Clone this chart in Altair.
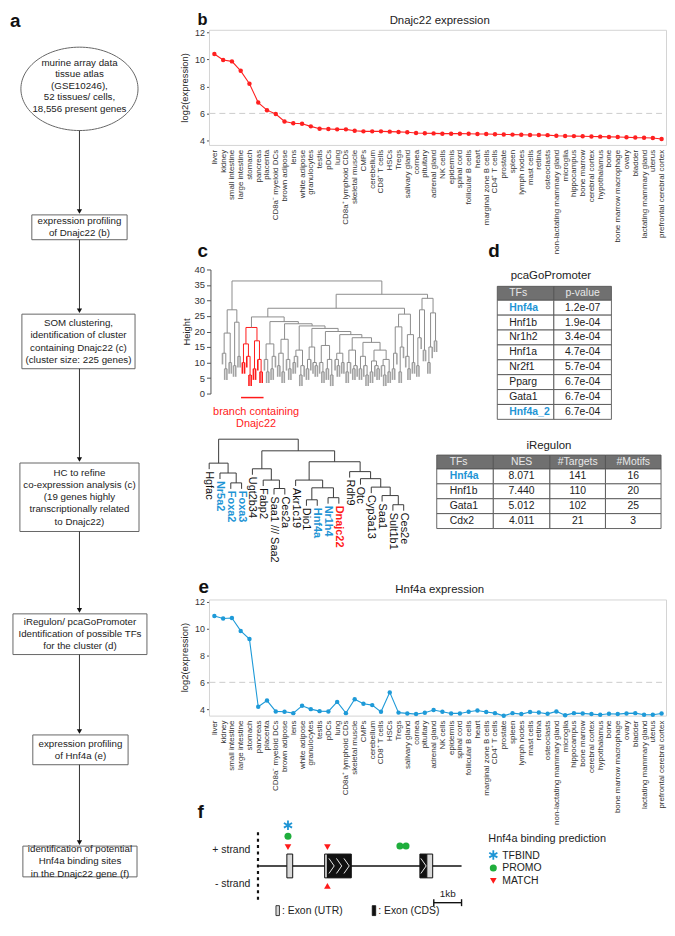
import re
import numpy as np
import pandas as pd
import altair as alt

FONT = "Liberation Sans, Arial, Helvetica, sans-serif"
BLUE = "#1f95d5"
RED = "#ff1a1a"
GREEN = "#1fae3c"
INK = "#222222"

W, H = 664, 914
OX, OY = 8, 8

# ---------------- data ----------------
tissues = ["liver", "kidney", "small intestine", "large intestine", "stomach", "pancreas", "placenta",
           "CD8a\u207b myeloid DCs", "brown adipose", "lens", "white adipose", "granulocytes", "testis",
           "pDCs", "lung", "CD8a\u207a lymphoid CDs", "skeletal muscle", "CMPs", "cerebellum",
           "CD8\u207a T cells", "HSCs", "Tregs", "salivary gland", "cornea", "pituitary", "adrenal gland",
           "NK cells", "epidermis", "spinal cord", "follicular B cells", "heart", "marginal zone B cells",
           "CD4\u207a T cells", "prostate", "spleen", "lymph nodes", "mast cells", "retina", "osteoclasts",
           "non-lactating mammary gland", "microglia", "hippocampus", "bone marrow", "cerebral cortex",
           "hypothalamus", "bone", "bone marrow macrophage", "ovary", "bladder",
           "lactating mammary gland", "uterus", "prefrontal cerebral cortex"]

dnajc22_expr = [10.4, 9.95, 9.85, 9.15, 8.2, 6.8, 6.24, 5.95, 5.4, 5.27, 5.23, 5.04, 4.87, 4.84,
                4.82, 4.82, 4.72, 4.67, 4.67, 4.67, 4.65, 4.63, 4.6, 4.55, 4.53, 4.52, 4.5, 4.5,
                4.5, 4.49, 4.48, 4.48, 4.46, 4.44, 4.43, 4.42, 4.4, 4.4, 4.39, 4.35, 4.33, 4.32,
                4.31, 4.29, 4.28, 4.26, 4.25, 4.24, 4.21, 4.2, 4.18, 4.1]

hnf4a_expr = [10.95, 10.77, 10.8, 9.84, 9.23, 4.18, 4.64, 3.83, 3.8, 3.7, 4.25, 4.0, 3.85, 3.83,
              4.54, 3.7, 4.74, 4.4, 4.3, 3.8, 5.25, 3.74, 3.68, 3.63, 3.73, 3.93, 3.8, 3.68,
              3.68, 3.8, 3.9, 3.78, 3.7, 3.5, 3.7, 3.63, 3.78, 3.75, 3.65, 3.83, 3.55, 3.7,
              3.68, 3.63, 3.58, 3.65, 3.63, 3.68, 3.7, 3.58, 3.58, 3.68]

# flowchart (panel a)
flow_ellipse = {"cx": 80, "cy": 86, "rx": 59, "ry": 42}
ellipse_text = ["murine array data", "tissue atlas", "(GSE10246),", "52 tissues/ cells,",
                "18,556 present genes"]
flow_boxes = [(32, 128, 213, 238), (22, 136, 313, 368), (20, 140, 463, 532),
              (13, 148, 615, 656), (33, 129, 737, 767), (23, 138, 849, 880)]
flow_text = [["expression profiling", "of Dnajc22 (b)"],
             ["SOM clustering,", "identification of cluster", "containing Dnajc22 (c)",
              "(cluster size: 225 genes)"],
             ["HC to refine", "co-expression analysis (c)", "(19 genes highly",
              "transcriptionally related", "to Dnajc22)"],
             ["iRegulon/ pcaGoPromoter", "Identification of possible TFs", "for the  cluster (d)"],
             ["expression profiling", "of Hnf4a (e)"],
             ["identification of potential", "Hnf4a binding sites", "in the Dnajc22 gene (f)"]]

# SOM-cluster dendrogram (panel c), "(left,right)height", x = leaf, r = highlighted branch
dend_L = "(((x,(x,x)8)13,(x,x)10)19.5,((x,x)9,(x,x)12)23)27"
dend_red = "r(((x,x)10,(x,(x,x)6)12)16,((x,x)8,(x,(x,x)7)11)17)21.3"
dend_Ma = "((x,(x,x)7)11,((x,x)8,x)12)16"
dend_Mc = "(((x,x)9,(x,x)7)13,(x,(x,x)8)11)17.5"
dend_Me = "(((x,x)10,x)12,((x,x)6,x)9)14"
dend_Mg = "(((x,x)8,x)11,(x,(x,x)9)10)15"
dend_Mi = "((x,(x,x)7)10,((x,x)8,(x,x)6)11)15.5"
dend_Mk = "((x,(x,x)9)11,(x,x)10)13"
dend_Mm = "(((x,x)7,x)10,((x,x)8,x)9)14"
dend_Mo = "((x,x)8,(x,(x,x)6)9)12"
dend_Mq = "((x,x)7,(x,(x,x)8)9)10.5"
dend_Mr = "((x,(x,x)6)9,(x,x)7)11"
dend_RLb = "((((x,x)8,x)13,((x,x)7,x)15)21.5,((x,(x,x)8)12,(x,x)10)19)25.6"
dend_RR = "((((x,x)9,x)18,(x,x)14)27,(((x,x)10,x)15,(x,x)17)26)30.7"
dend_M = ("(" + dend_Ma + ",(" + dend_Mc + ",(" + dend_Me + ",(" + dend_Mg + ",(" + dend_Mi +
          ",(" + dend_Mk + ",(" + dend_Mm + ",(" + dend_Mo + ",(" + dend_Mq + "," + dend_Mr +
          ")14)16.5)18)19)20)21)21.8)22.5)23.2")
dend_tree = ("(" + dend_L + ",(((" + dend_red + "," + dend_M + ")24.7," + dend_RLb + ")27.5," +
             dend_RR + ")32)36.3")
dend_hang = 3.6

# 19-gene HC tree
lower_tree = (10, (6.6, "Hgfac", (5.2, "Nr5a2", (3.8, "Foxa2", "Foxa3"))),
              (8.35, (5.8, "Ugt2b34", (4.2, "Fabp2", (3.0, "Saa1 /// Saa2", "Ces2a"))),
               (6.8, (4.2, "Akr1c19", (3.1, (1.4, "Dio1", "Hnf4a"), (1.7, "Nr1h4", "Dnajc22"))),
                (5.4, "Rdh9", (4.4, "Otc", (3.2, "Cyp3a13", (2.0, "Saa1", (0.7, "Sult1b1", "Ces2e"))))))))
lower_blue = ["Nr5a2", "Foxa2", "Foxa3", "Hnf4a", "Nr1h4"]
lower_red = ["Dnajc22"]
lower_hang = 0.85

# tables (panel d)
pca_header = ["TFs", "p-value"]
pca_tfs = ["Hnf4a", "Hnf1b", "Nr1h2", "Hnf1a", "Nr2f1", "Pparg", "Gata1", "Hnf4a_2"]
pca_p = ["1.2e-07", "1.9e-04", "3.4e-04", "4.7e-04", "5.7e-04", "6.7e-04", "6.7e-04", "6.7e-04"]
ireg_header = ["TFs", "NES", "#Targets", "#Motifs"]
ireg_tfs = ["Hnf4a", "Hnf1b", "Gata1", "Cdx2"]
ireg_nes = ["8.071", "7.440", "5.012", "4.011"]
ireg_targets = ["141", "110", "102", "21"]
ireg_motifs = ["16", "20", "25", "3"]
highlight_tfs = ["Hnf4a", "Hnf4a_2"]

# gene model (panel f), kb
gene_len = 7.29
exon_x0 = [1.0, 2.36, 2.46, 5.79, 6.04]
exon_x1 = [1.21, 2.46, 3.32, 6.04, 6.25]
exon_kind = ["UTR", "UTR", "CDS", "CDS", "UTR"]
chevron_kb = [2.61, 2.88, 3.15, 5.92]
tfbind_kb, tfbind_v = [1.04], [41]
promo_kb, promo_v = [1.04, 5.07, 5.29], [30, 20, 20]
match_plus_kb, match_plus_v = [1.04, 2.46], [19, 19]
match_minus_kb, match_minus_v = [2.46], [-20]

STAR = "M0,-1L0,1M-0.866,-0.5L0.866,0.5M-0.866,0.5L0.866,-0.5"
CHEV = "M-0.35,-1L0.35,0L-0.35,1"

# ---------------- helpers ----------------
CX = alt.Scale(domain=[OX, OX + W], range=[0, W], nice=False, zero=False)
CY = alt.Scale(domain=[OY, OY + H], range=[0, H], nice=False, zero=False)


def cxy(xf="x", yf="y"):
    return {"x": alt.X(f"{xf}:Q", scale=CX, axis=None), "y": alt.Y(f"{yf}:Q", scale=CY, axis=None)}


def ctext(rows, size, weight="normal", align="center", angle=0, color=INK, xs=CX, ys=CY):
    df = pd.DataFrame(rows, columns=["t", "x", "y"])
    mk = dict(font=FONT, fontSize=size, fontWeight=weight, align=align, baseline="middle", color=color)
    if angle:
        mk["angle"] = angle
    return alt.Chart(df).mark_text(**mk).encode(
        x=alt.X("x:Q", scale=xs, axis=None), y=alt.Y("y:Q", scale=ys, axis=None), text="t:N")


def crect(rows, **mk):
    df = pd.DataFrame(rows, columns=["x0", "x1", "y0", "y1"])
    return alt.Chart(df).mark_rect(**mk).encode(
        x=alt.X("x0:Q", scale=CX, axis=None), x2="x1:Q",
        y=alt.Y("y0:Q", scale=CY, axis=None), y2="y1:Q")


# ---------------- canvas: panel a, frames, tables, labels ----------------
canvas = []
canvas.append(crect([(211, 671.5, 27, 143), (211, 671.5, 601, 718)],
                     fillOpacity=0, stroke="#d4d4d4", strokeWidth=1))

# flowchart
e = flow_ellipse
tt = np.linspace(0, 2 * np.pi, 121)
ell = pd.DataFrame({"x": e["cx"] + e["rx"] * np.cos(tt), "y": e["cy"] + e["ry"] * np.sin(tt),
                    "k": np.arange(len(tt))})
canvas.append(alt.Chart(ell).mark_line(color="#666666", strokeWidth=1).encode(order="k:Q", **cxy()))
canvas.append(crect(flow_boxes, fill="white", stroke="#666666", strokeWidth=1))
starts = [e["cy"] + e["ry"]] + [b[3] for b in flow_boxes[:-1]]
ends = [b[2] for b in flow_boxes]
arr = pd.DataFrame({"x": [80] * len(ends), "y": starts, "y2": [v - 4 for v in ends]})
canvas.append(alt.Chart(arr).mark_rule(color="#333333", strokeWidth=1).encode(
    y2="y2:Q", **cxy()))
heads = pd.DataFrame({"x": [80] * len(ends), "y": [v - 3.5 for v in ends]})
canvas.append(alt.Chart(heads).mark_point(shape="triangle-down", filled=True, color="#111111",
                                          size=28, opacity=1).encode(**cxy()))
flow_rows = []
for i, s in enumerate(ellipse_text):
    flow_rows.append((s, e["cx"], 83 + (i - 2) * 11.5))
for (x0, x1, y0, y1), lines in zip(flow_boxes, flow_text):
    n = len(lines)
    for i, s in enumerate(lines):
        flow_rows.append((s, (x0 + x1) / 2, (y0 + y1) / 2 + (i - (n - 1) / 2) * 12.3))
canvas.append(ctext(flow_rows, 9.8))

# panel letters, titles, axis titles
canvas.append(ctext([("a", 10, 18), ("c", 199, 249), ("d", 492, 249),
                     ("e", 200, 588), ("f", 199, 815)], 19, weight="bold", align="left", color="#111111"))
canvas.append(ctext([("b", 199, 16.2)], 16.5, weight="bold", align="left", color="#111111"))
canvas.append(ctext([("Dnajc22 expression", 443, 18), ("Hnf4a expression", 443, 591),
                     ("pcaGoPromoter", 555, 275), ("iRegulon", 553, 446)], 11.5))
canvas.append(ctext([("log2(expression)", 186, 85), ("Height", 188, 331),
                     ("log2(expression)", 186, 659)], 9.5, angle=270))
canvas.append(ctext([("branch containing", 258, 412), ("Dnajc22", 258, 424)], 11, color=RED))


# tables
def table_layers(edges, y0, hh, rh, header, rows, tf_left):
    rr = []
    for j in range(len(edges) - 1):
        rr.append((edges[j], edges[j + 1], y0, y0 + hh, "#707070"))
    for i in range(len(rows)):
        ya = y0 + hh + i * rh
        for j in range(len(edges) - 1):
            rr.append((edges[j], edges[j + 1], ya, ya + rh, "#ffffff"))
    rdf = pd.DataFrame(rr, columns=["x0", "x1", "y0", "y1", "fill"])
    rect = alt.Chart(rdf).mark_rect(stroke="#555555", strokeWidth=0.9).encode(
        x=alt.X("x0:Q", scale=CX, axis=None), x2="x1:Q",
        y=alt.Y("y0:Q", scale=CY, axis=None), y2="y1:Q", fill=alt.Fill("fill:N", scale=None))
    hl = [(header[0], tf_left, y0 + hh / 2)]
    hc = [(header[j], (edges[j] + edges[j + 1]) / 2, y0 + hh / 2) for j in range(1, len(header))]
    bn, bb, bc = [], [], []
    for i, row in enumerate(rows):
        yc = y0 + hh + (i + 0.5) * rh
        (bb if row[0] in highlight_tfs else bn).append((row[0], tf_left, yc))
        for j in range(1, len(row)):
            bc.append((row[j], (edges[j] + edges[j + 1]) / 2, yc))
    out = [rect, ctext(hl, 10.5, align="left", color="#e8e8e8"), ctext(hc, 10.5, color="#e8e8e8"),
           ctext(bn, 10.5, align="left"), ctext(bc, 10.5)]
    if bb:
        out.append(ctext(bb, 10.5, weight="bold", align="left", color=BLUE))
    return out


canvas += table_layers([501, 558, 616], 285, 14, 15, pca_header,
                       list(zip(pca_tfs, pca_p)), 513)
canvas += table_layers([440, 497, 554, 610, 666], 455, 14, 15, ireg_header,
                       list(zip(ireg_tfs, ireg_nes, ireg_targets, ireg_motifs)), 453)

# panel f legend + exon key
canvas.append(ctext([("Hnf4a binding prediction", 492, 842)], 11, align="left"))
canvas.append(ctext([("TFBIND", 506, 859), ("PROMO", 506, 871), ("MATCH", 506, 884)], 10.5, align="left"))
canvas.append(alt.Chart(pd.DataFrame({"x": [497], "y": [858]})).mark_point(
    shape=STAR, filled=False, color=BLUE, strokeWidth=1.8, size=90, opacity=1).encode(**cxy()))
canvas.append(alt.Chart(pd.DataFrame({"x": [497], "y": [871]})).mark_point(
    shape="circle", filled=True, color=GREEN, size=50, opacity=1).encode(**cxy()))
canvas.append(alt.Chart(pd.DataFrame({"x": [497], "y": [884]})).mark_point(
    shape="triangle-down", filled=True, color=RED, size=45, opacity=1).encode(**cxy()))
canvas.append(crect([(278, 281.5, 909, 919)], fill="#d8d8d8", stroke="#111111", strokeWidth=0.8))
canvas.append(crect([(375, 378.5, 909, 919)], fill="#111111", stroke="#111111", strokeWidth=0.8))
canvas.append(ctext([(": Exon (UTR)", 284, 914), (": Exon (CDS)", 381, 914)], 10.5, align="left"))

canvas_layer = alt.layer(*canvas)


# ---------------- expression charts (b, e) ----------------
def expr_layer(vals, color, top, bot, dmin, dmax):
    df = pd.DataFrame({"tissue": tissues, "val": vals, "i": list(range(len(tissues)))})
    xs = alt.Scale(type="point", domain=tissues, range=[211 - OX, 671.5 - OX], padding=0.56)
    ys = alt.Scale(domain=[dmin, dmax], range=[bot - OY, top - OY], nice=False, zero=False)
    xax = alt.Axis(orient="bottom", offset=(bot - OY) - H, labelAngle=270, labelFontSize=8,
                   labelFont=FONT, labelColor="#333333", ticks=False, domain=False, grid=False,
                   labelPadding=4, title=None, labelOverlap=False)
    yax = alt.Axis(orient="left", offset=-(211 - OX), values=[4, 6, 8, 10, 12], tickSize=3,
                   tickColor="#555555", domain=False, grid=False, labelFontSize=9, labelFont=FONT,
                   labelColor="#333333", labelPadding=2, title=None)
    xe = alt.X("tissue:N", scale=xs, axis=xax)
    ye = alt.Y("val:Q", scale=ys, axis=yax)
    rule = alt.Chart(pd.DataFrame({"val": [6.0]})).mark_rule(
        color="#cccccc", strokeDash=[6, 4], strokeWidth=1).encode(
        y=ye, x=alt.value(211 - OX), x2=alt.value(671.5 - OX))
    line = alt.Chart(df).mark_line(color=color, strokeWidth=1.1).encode(x=xe, y=ye, order="i:Q")
    pts = alt.Chart(df).mark_point(filled=True, color=color, size=20, opacity=1).encode(x=xe, y=ye)
    return alt.layer(rule, line, pts)


b_layer = expr_layer(dnajc22_expr, "#ff2020", 27, 143, 3.63, 12.15)
e_layer = expr_layer(hnf4a_expr, "#1e9ad8", 601, 718, 3.48, 12.15)


# ---------------- dendrogram (c) ----------------
def parse_tree(s):
    pos = [0]

    def node():
        red = False
        if s[pos[0]] == "r":
            red = True
            pos[0] += 1
        if s[pos[0]] == "x":
            pos[0] += 1
            return None
        pos[0] += 1
        a = node()
        pos[0] += 1
        b = node()
        pos[0] += 1
        m = re.match(r"\d+(\.\d+)?", s[pos[0]:])
        pos[0] += m.end()
        return {"h": float(m.group()), "c": [a, b], "red": red}

    return node()


def dendro(root, hang):
    segs, redleaves, cnt = [], [], [0]

    def rec(n, red):
        h = n["h"]
        rh = red or n["red"]
        xs = []
        for ch in n["c"]:
            if ch is None:
                xi = cnt[0]
                cnt[0] += 1
                segs.append((xi, xi, h, h - hang, RED if rh else "#a3a3a3", 1.6))
                if rh:
                    redleaves.append(xi)
                xs.append(xi)
            else:
                xc = rec(ch, rh)
                segs.append((xc, xc, h, ch["h"], RED if rh else "#8c8c8c", 1))
                xs.append(xc)
        segs.append((xs[0], xs[1], h, h, RED if rh else "#8c8c8c", 1))
        return (xs[0] + xs[1]) / 2

    rec(root, False)
    return segs, redleaves, cnt[0]


segs, redleaves, nleaf = dendro(parse_tree(dend_tree), dend_hang)
segs.append((min(redleaves) - 0.6, max(redleaves) + 0.6, -1.3, -1.3, RED, 1.5))
cdf = pd.DataFrame(segs, columns=["x", "x2", "y", "y2", "col", "sw"])
c_layer = alt.Chart(cdf).mark_rule().encode(
    x=alt.X("x:Q", scale=alt.Scale(domain=[-0.5, nleaf - 0.5], range=[223 - OX, 441 - OX],
                                   nice=False, zero=False), axis=None),
    x2="x2:Q",
    y=alt.Y("y:Q", scale=alt.Scale(domain=[0, 40], range=[393 - OY, 268 - OY], nice=False, zero=False),
            axis=alt.Axis(orient="left", offset=-(212 - OX), values=list(range(0, 41, 5)), tickSize=4,
                          tickColor="#555555", domainColor="#555555", grid=False, labelFontSize=9.5,
                          labelFont=FONT, labelColor="#333333", labelPadding=2, title=None)),
    y2="y2:Q",
    color=alt.Color("col:N", scale=None),
    strokeWidth=alt.StrokeWidth("sw:Q", scale=None))


# ---------------- 19-gene tree ----------------
def lower_layout(tree):
    segs, leaves, cnt = [], [], [0]

    def rec(n):
        h, a, b = n
        xs = []
        for ch in (a, b):
            if isinstance(ch, str):
                xi = cnt[0]
                cnt[0] += 1
                segs.append((xi, xi, h, h - lower_hang))
                leaves.append((ch, xi, h - lower_hang))
                xs.append(xi)
            else:
                xc = rec(ch)
                segs.append((xc, xc, h, ch[0]))
                xs.append(xc)
        segs.append((xs[0], xs[1], h, h))
        return (xs[0] + xs[1]) / 2

    rec(tree)
    return segs, leaves, cnt[0]


lsegs, lleaves, nl = lower_layout(lower_tree)
LX = alt.Scale(domain=[0, nl - 1], range=[210.7 - OX, 406.7 - OX], nice=False, zero=False)
LY = alt.Scale(domain=[0, 10], range=[510 - OY, 439 - OY], nice=False, zero=False)
ldf = pd.DataFrame(lsegs, columns=["x", "x2", "y", "y2"])
l_lines = alt.Chart(ldf).mark_rule(color="#3a3a3a", strokeWidth=1).encode(
    x=alt.X("x:Q", scale=LX, axis=None), x2="x2:Q", y=alt.Y("y:Q", scale=LY, axis=None), y2="y2:Q")


def leaf_text(names, weight, color):
    rows = [(n, x, y) for (n, x, y) in lleaves if n in names]
    df = pd.DataFrame(rows, columns=["t", "x", "y"])
    return alt.Chart(df).mark_text(font=FONT, fontSize=11, fontWeight=weight, color=color, angle=90,
                                   align="left", baseline="middle", dx=2).encode(
        x=alt.X("x:Q", scale=LX, axis=None), y=alt.Y("y:Q", scale=LY, axis=None), text="t:N")


plain = [n for (n, _, _) in lleaves if n not in lower_blue and n not in lower_red]
l_layer = alt.layer(l_lines, leaf_text(plain, "normal", "#111111"),
                    leaf_text(lower_blue, "bold", BLUE), leaf_text(lower_red, "bold", RED))

# ---------------- gene model (f) ----------------
KX = alt.Scale(domain=[0, gene_len], range=[261 - OX, 465 - OX], nice=False, zero=False)
KY = alt.Scale(domain=[-40, 50], range=[909 - OY, 819 - OY], nice=False, zero=False)


def kxy(xf="kb", yf="v"):
    return {"x": alt.X(f"{xf}:Q", scale=KX, axis=None), "y": alt.Y(f"{yf}:Q", scale=KY, axis=None)}


f_parts = []
f_parts.append(alt.Chart(pd.DataFrame({"kb": [-0.04], "v": [-34], "v2": [34]})).mark_rule(
    color="#111111", strokeWidth=2.2, strokeDash=[3, 3.5]).encode(y2="v2:Q", **kxy()))
f_parts.append(alt.Chart(pd.DataFrame({"kb": [0], "kb2": [gene_len], "v": [0]})).mark_rule(
    color="#111111", strokeWidth=1.5).encode(x2="kb2:Q", **kxy()))
exdf = pd.DataFrame({"kb": exon_x0, "kb2": exon_x1, "v": [-12] * 5, "v2": [12] * 5,
                     "fill": ["#d9d9d9" if k == "UTR" else "#111111" for k in exon_kind]})
f_parts.append(alt.Chart(exdf).mark_rect(stroke="#111111", strokeWidth=1).encode(
    x2="kb2:Q", y2="v2:Q", fill=alt.Fill("fill:N", scale=None), **kxy()))
f_parts.append(alt.Chart(pd.DataFrame({"kb": chevron_kb, "v": [0] * len(chevron_kb)})).mark_point(
    shape=CHEV, filled=False, color="#e8e8e8", strokeWidth=1.0, size=230, opacity=1).encode(**kxy()))
f_parts.append(alt.Chart(pd.DataFrame({"kb": tfbind_kb, "v": tfbind_v})).mark_point(
    shape=STAR, filled=False, color=BLUE, strokeWidth=1.8, size=90, opacity=1).encode(**kxy()))
f_parts.append(alt.Chart(pd.DataFrame({"kb": promo_kb, "v": promo_v})).mark_point(
    shape="circle", filled=True, color=GREEN, size=50, opacity=1).encode(**kxy()))
f_parts.append(alt.Chart(pd.DataFrame({"kb": match_plus_kb, "v": match_plus_v})).mark_point(
    shape="triangle-down", filled=True, color=RED, size=45, opacity=1).encode(**kxy()))
f_parts.append(alt.Chart(pd.DataFrame({"kb": match_minus_kb, "v": match_minus_v})).mark_point(
    shape="triangle-up", filled=True, color=RED, size=45, opacity=1).encode(**kxy()))
bar = pd.DataFrame({"kb": [gene_len - 1, gene_len - 1, gene_len], "kb2": [gene_len, gene_len - 1, gene_len],
                    "v": [-37, -40.5, -40.5], "v2": [-37, -33.5, -33.5]})
f_parts.append(alt.Chart(bar).mark_rule(color="#111111", strokeWidth=1.4).encode(
    x2="kb2:Q", y2="v2:Q", **kxy()))
f_parts.append(ctext([("+ strand", -0.32, 16), ("- strand", -0.32, -18)], 10.5, align="right",
                     xs=KX, ys=KY))
f_parts.append(ctext([("1kb", gene_len - 0.5, -28)], 10, xs=KX, ys=KY))
f_layer = alt.layer(*f_parts)

chart = alt.layer(canvas_layer, b_layer, e_layer, c_layer, l_layer, f_layer).resolve_scale(
    x="independent", y="independent").properties(
    width=W, height=H, padding=0, background="white",
    autosize=alt.AutoSizeParams(type="none")).configure_view(stroke=None)

chart.save("out.html", embed_options={"renderer": "svg", "actions": False})
